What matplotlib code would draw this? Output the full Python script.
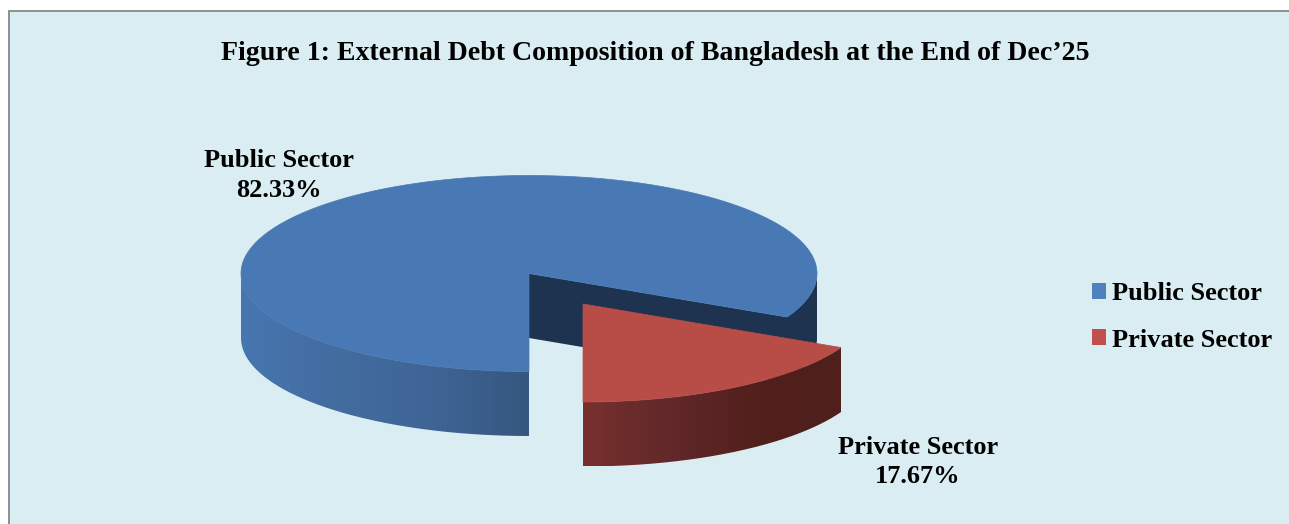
import matplotlib.pyplot as plt
import numpy as np
from matplotlib.colors import LinearSegmentedColormap
from matplotlib.patches import Patch, PathPatch, Polygon, Rectangle
from matplotlib.path import Path

plt.rcParams["font.family"] = ["Liberation Serif", "DejaVu Serif"]
plt.rcParams["font.weight"] = "bold"

categories = ["Public Sector", "Private Sector"]
shares = [82.33, 17.67]
title = "Figure 1: External Debt Composition of Bangladesh at the End of Dec\u201925"

# pie geometry in pixels, y grows downwards
RX, RY, DEPTH = 288, 98, 64.5
PUBLIC_CENTER = (529, 273.5)
PRIVATE_CENTER = (583, 304)

BG = "#daedf3"
PUBLIC_TOP = "#4879b4"
PRIVATE_TOP = "#b84d48"
WALL = "#1e3350"
LEGEND_COLORS = ["#4f81bd", "#c0504d"]


def rim(center, a0, a1, drop=0, n=200):
    # points on the ellipse; angles run counter-clockwise as seen on screen
    t = np.radians(np.linspace(a0, a1, n))
    return np.column_stack(
        [center[0] + RX * np.cos(t), center[1] - RY * np.sin(t) + drop]
    )


def side_band(ax, center, a0, a1, stops, zorder):
    # outer wall of a slice, shaded left to right with a clipped gradient
    top = rim(center, a0, a1)
    bottom = rim(center, a1, a0, drop=DEPTH)
    verts = np.vstack([top, bottom, top[:1]])
    patch = PathPatch(Path(verts), fc="none", ec="none")
    ax.add_patch(patch)
    cmap = LinearSegmentedColormap.from_list("side", stops)
    x0, x1 = verts[:, 0].min(), verts[:, 0].max()
    y0, y1 = verts[:, 1].min(), verts[:, 1].max()
    grad = np.linspace(0, 1, 256).reshape(1, -1)
    im = ax.imshow(grad, cmap=cmap, extent=(x0, x1, y1, y0), aspect="auto", zorder=zorder)
    im.set_clip_path(patch)


fig = plt.figure(figsize=(12.89, 5.24), dpi=100, facecolor="white")
ax = fig.add_axes([0, 0, 1, 1])
ax.set_axis_off()

ax.add_patch(Rectangle((9, 11), 1300, 530, fc=BG, ec="#8e8e8e", lw=1.4, zorder=0))

# the private slice starts at six o'clock and is pulled out of the pie
cut = -90 + shares[1] / sum(shares) * 360

# public slice
side_band(ax, PUBLIC_CENTER, 180, 270, ["#4776b0", "#436c9f", "#3f6596", "#35577f"], 2)
wall_tip = rim(PUBLIC_CENTER, cut, cut, n=1)[0]
ax.add_patch(
    Polygon(
        [
            PUBLIC_CENTER,
            wall_tip,
            (wall_tip[0], wall_tip[1] + DEPTH),
            (PUBLIC_CENTER[0], PUBLIC_CENTER[1] + DEPTH),
        ],
        fc=WALL,
        ec="none",
        zorder=3,
    )
)
back = rim(PUBLIC_CENTER, cut, 0)
back_low = rim(PUBLIC_CENTER, 0, cut, drop=DEPTH)
ax.add_patch(Polygon(np.vstack([back, back_low]), fc=WALL, ec="none", zorder=3))
top_face = np.vstack([[PUBLIC_CENTER], rim(PUBLIC_CENTER, cut, 270, n=500)])
ax.add_patch(Polygon(top_face, fc=PUBLIC_TOP, ec=PUBLIC_TOP, lw=0.5, zorder=4))

# private slice
side_band(ax, PRIVATE_CENTER, -90, cut, ["#78302e", "#62282a", "#52201d", "#4e1f1b"], 5)
top_face = np.vstack([[PRIVATE_CENTER], rim(PRIVATE_CENTER, -90, cut)])
ax.add_patch(Polygon(top_face, fc=PRIVATE_TOP, ec=PRIVATE_TOP, lw=0.5, zorder=6))

ax.set_xlim(0, 1289)
ax.set_ylim(524, 0)

ax.text(655, 53, title, ha="center", va="center", fontsize=20.1, zorder=7)
ax.text(279, 175.5, f"{categories[0]}\n{shares[0]:.2f}%", ha="center", va="center",
        fontsize=19, linespacing=1.36, zorder=7)
ax.text(918, 462, f"{categories[1]}\n{shares[1]:.2f}%", ha="center", va="center",
        fontsize=19, linespacing=1.36, zorder=7)

handles = [Patch(fc=c, ec="none") for c in LEGEND_COLORS]
ax.legend(
    handles,
    categories,
    loc="center left",
    bbox_to_anchor=(1092, 317),
    bbox_transform=ax.transData,
    frameon=False,
    fontsize=19,
    borderpad=0,
    borderaxespad=0,
    handlelength=0.53,
    handleheight=0.53,
    handletextpad=0.23,
    labelspacing=0.88,
)

fig.savefig("out.png", dpi=100, facecolor=fig.get_facecolor())
